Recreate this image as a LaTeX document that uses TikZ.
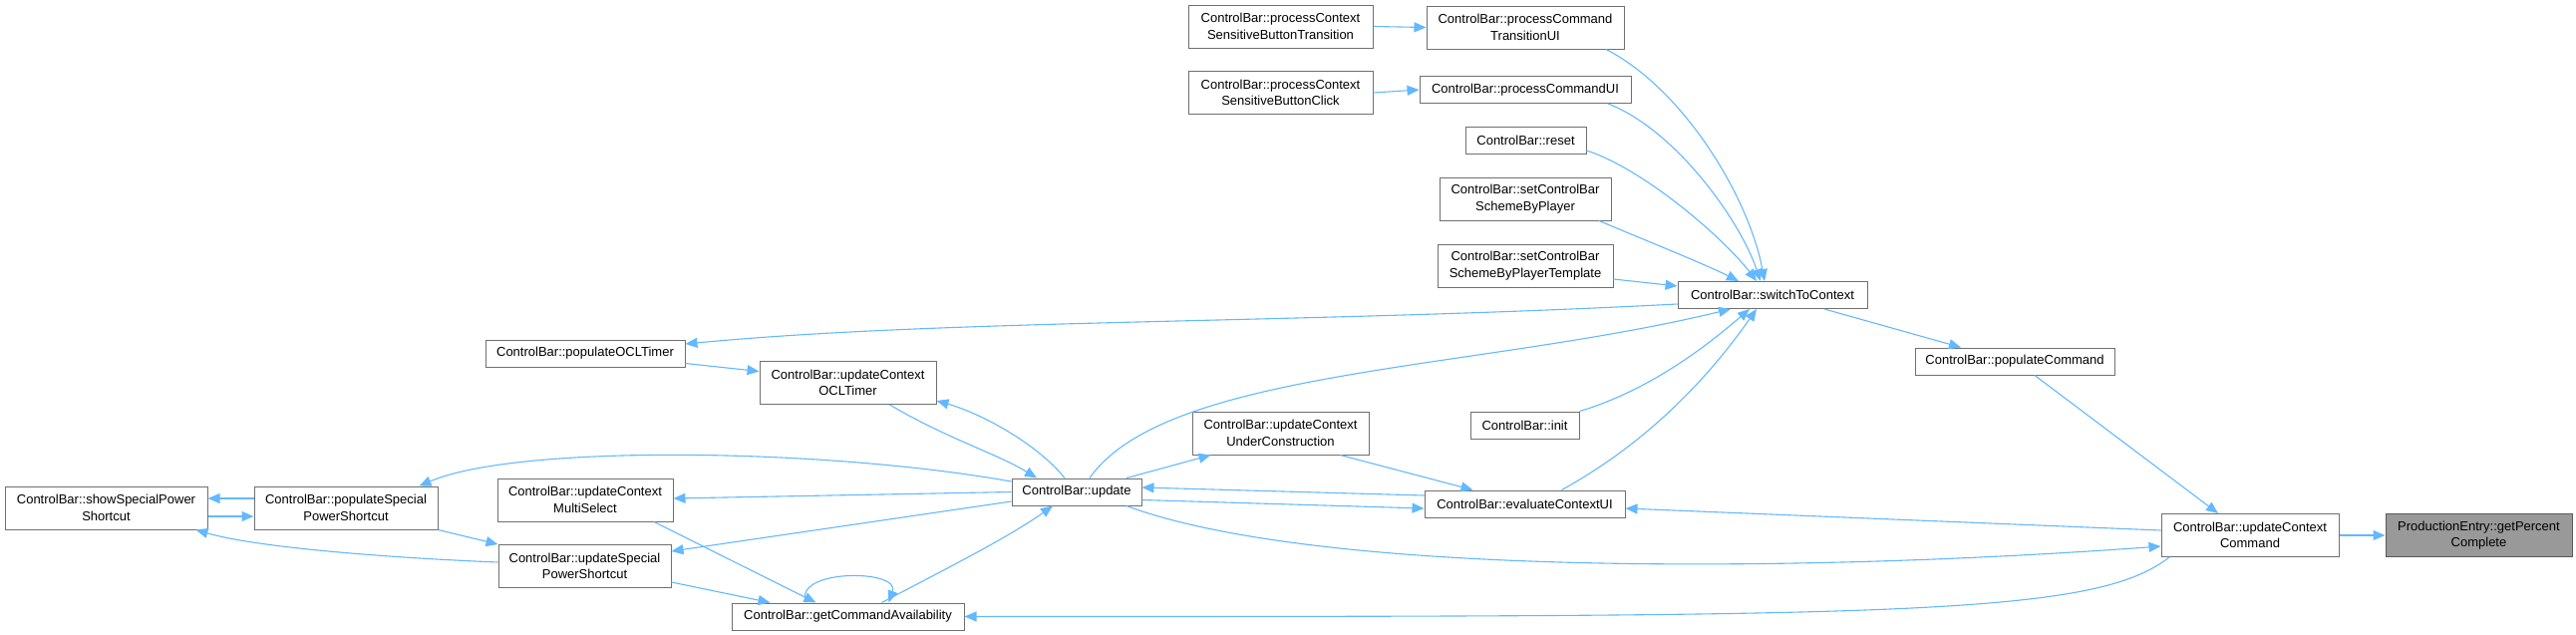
\documentclass[tikz,border=0pt]{standalone}
\usepackage{fontspec}
\usetikzlibrary{arrows.meta}
\setmainfont{Liberation Sans}
\definecolor{steel}{HTML}{63B8FF}
\definecolor{frame}{HTML}{707070}
\definecolor{hilite}{HTML}{999999}

\begin{document}
\begin{tikzpicture}[x=1pt,y=-1pt,
  fn/.style={draw=frame,fill=white,line width=1pt,inner sep=0pt,minimum height=27pt,
    align=center,font=\fontsize{13}{16.5}\selectfont},
  fn2/.style={fn,minimum height=43pt},
  call/.style={draw=steel,line width=1.1pt,-{Triangle[length=12pt,width=10pt]}}]
\useasboundingbox (0,0) rectangle (2584,637);
% left part
\node[fn2,minimum width=203] (showsp) at (106.5,509.5) {ControlBar::showSpecialPower\\Shortcut};
\node[fn2,minimum width=184] (popsp) at (347,509.5) {ControlBar::populateSpecial\\PowerShortcut};
\node[fn,minimum width=200] (popocl) at (587,354.5) {ControlBar::populateOCLTimer};
\node[fn2,minimum width=177] (updocl) at (850.5,384) {ControlBar::updateContext\\OCLTimer};
\node[fn2,minimum width=176] (updms) at (587,501.5) {ControlBar::updateContext\\MultiSelect};
\node[fn2,minimum width=173] (updsp) at (586.5,568) {ControlBar::updateSpecial\\PowerShortcut};
\node[fn,minimum width=233] (getca) at (850.5,618.5) {ControlBar::getCommandAvailability};
% middle
\node[fn,minimum width=130] (update) at (1080,493.5) {ControlBar::update};
\node[fn2,minimum width=177] (upduc) at (1284.5,434.5) {ControlBar::updateContext\\UnderConstruction};
\node[fn,minimum width=109] (init) at (1529.5,426.5) {ControlBar::init};
\node[fn,minimum width=201] (evalui) at (1529.5,505.5) {ControlBar::evaluateContextUI};
% callers of switchToContext
\node[fn2,minimum width=185] (pcsbt) at (1284.5,26.5) {ControlBar::processContext\\SensitiveButtonTransition};
\node[fn2,minimum width=185] (pcsbc) at (1284.5,93) {ControlBar::processContext\\SensitiveButtonClick};
\node[fn2,minimum width=198] (pctui) at (1530,27.5) {ControlBar::processCommand\\TransitionUI};
\node[fn,minimum width=212] (pcui) at (1530,90) {ControlBar::processCommandUI};
\node[fn,minimum width=121] (reset) at (1530.5,141) {ControlBar::reset};
\node[fn2,minimum width=172] (scbp) at (1530,199.5) {ControlBar::setControlBar\\SchemeByPlayer};
\node[fn2,minimum width=176] (scbpt) at (1530,266.5) {ControlBar::setControlBar\\SchemeByPlayerTemplate};
\node[fn,minimum width=190] (s2c) at (1778,296) {ControlBar::switchToContext};
% right part
\node[fn,minimum width=200] (popcmd) at (2021,362.5) {ControlBar::populateCommand};
\node[fn2,minimum width=178] (updcmd) at (2257,537) {ControlBar::updateContext\\Command};
\node[fn2,minimum width=187,fill=hilite,draw=frame!80!black] (getpc) at (2486.5,537) {ProductionEntry::getPercent\\Complete};

% edges into switchToContext
\draw[call] (pcsbt.east) -- (pctui.west);
\draw[call] (pcsbc.east) -- (pcui.west);
\draw[call] ([xshift=81]pctui.south) .. controls (1690,90) and (1755,200) .. ([xshift=-8]s2c.north);
\draw[call] ([xshift=83]pcui.south) .. controls (1680,130) and (1745,220) .. ([xshift=-12]s2c.north);
\draw[call] ([yshift=-10]reset.east) .. controls (1650,170) and (1730,240) .. ([xshift=-16]s2c.north);
\draw[call] ([xshift=74]scbp.south) .. controls (1660,245) and (1710,265) .. ([xshift=-34]s2c.north);
\draw[call] ([yshift=-13.5]scbpt.east) -- ([yshift=9]s2c.west);
\draw[call] ([xshift=13]update.north) .. controls (1170,370) and (1480,372) .. ([xshift=-42]s2c.south);
\draw[call] (init.north east) .. controls (1660,390) and (1720,340) .. ([xshift=-23]s2c.south);
\draw[call] ([xshift=37]evalui.north) .. controls (1660,440) and (1720,370) .. ([xshift=-16]s2c.south);
% edges out of switchToContext
\draw[call] ([yshift=-9]s2c.west) .. controls (1300,325) and (950,320) .. ([yshift=9.5]popocl.east);
\draw[call] ([xshift=52]s2c.south) -- ([xshift=-54]popcmd.north);
\draw[call] ([xshift=20]popcmd.south) -- ([xshift=-32]updcmd.north);
% updateContextCommand
\draw[call] (updcmd) -- (getpc);
\draw[call] ([yshift=5]updcmd.west) -- ([yshift=-4.5]evalui.east);
\draw[call] ([xshift=50]update.south) .. controls (1320,578) and (1800,575) .. ([yshift=-11]updcmd.west);
\draw[call] ([xshift=-81]updcmd.south) .. controls (2100,618.5) and (1900,618.5) .. (getca.east);
% around update
\draw[call] ([xshift=50]update.north) -- ([xshift=-70]upduc.south);
\draw[call] ([xshift=60]upduc.south) -- ([xshift=-52]evalui.north);
\draw[call] ([yshift=8.5]evalui.west) -- ([yshift=4.5]update.east);
\draw[call] ([yshift=-8]update.east) -- ([yshift=-4.5]evalui.west);
\draw[call] ([yshift=-10]popocl.east) -- ([yshift=11.5]updocl.west);
\draw[call] ([xshift=42]updocl.south) .. controls (950,440) and (1000,455) .. ([xshift=-40]update.north);
\draw[call] ([xshift=-12]update.north) .. controls (1040,445) and (985,415) .. ([yshift=4]updocl.south east);
\draw[call] ([yshift=10.5]update.west) .. controls (830,450) and (520,445) .. ([xshift=-19]popsp.north east);
\draw[call] (update.west) -- ([yshift=1.5]updms.east);
\draw[call] ([yshift=-9.5]update.west) -- ([yshift=15]updsp.east);
% getCommandAvailability
\draw[call] ([xshift=69]updms.south) -- ([xshift=-32]getca.north);
\draw[call] ([yshift=-16]updsp.east) -- ([xshift=-78]getca.north);
\draw[call] ([xshift=34]getca.north) .. controls (950,570) and (1010,540) .. ([xshift=-24]update.south);
\draw[call] ([xshift=-42]getca.north) .. controls +(-14,-34) and +(12,-34) .. ([xshift=41]getca.north);
% special power shortcut
\draw[call] ([yshift=9.5]popsp.west) -- ([yshift=9.5]showsp.east);
\draw[call] ([yshift=-8.5]showsp.east) -- ([yshift=-8.5]popsp.west);
\draw[call] (popsp.south east) -- (updsp.north west);
\draw[call] ([yshift=4]updsp.west) .. controls (400,560) and (260,550) .. ([xshift=-12]showsp.south east);
\end{tikzpicture}
\end{document}
